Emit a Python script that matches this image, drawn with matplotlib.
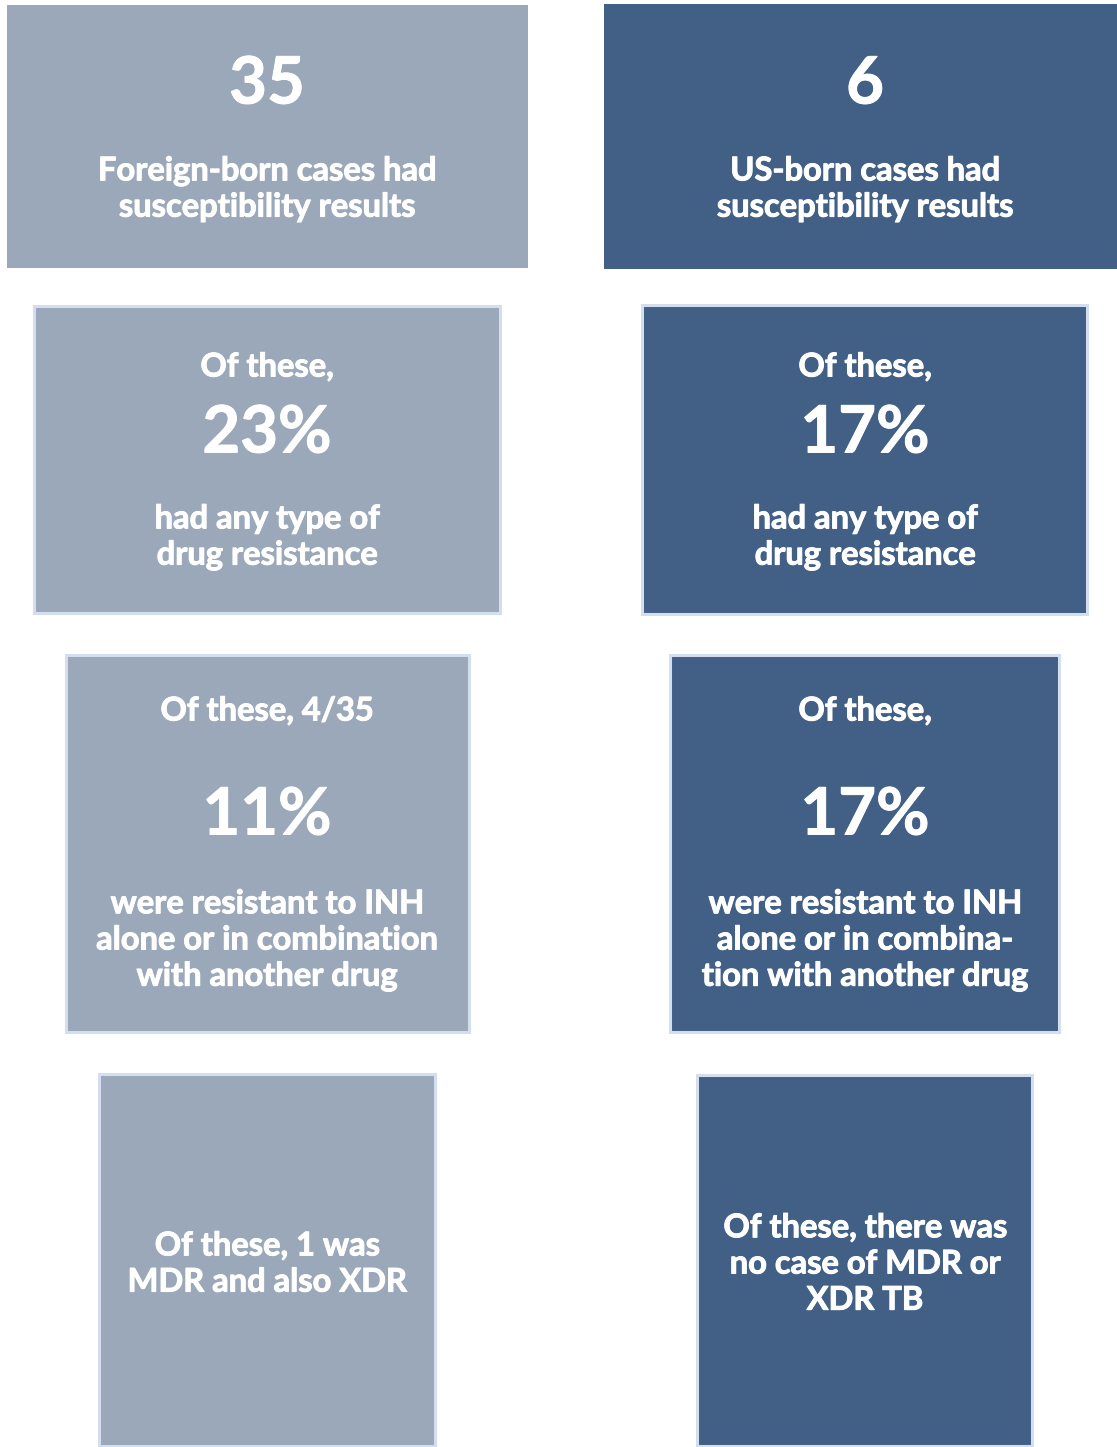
import matplotlib.pyplot as plt
import matplotlib.patheffects as pe
from matplotlib.patches import Rectangle

# colonnes: nacidos fuera / nacidos en EEUU
light = '#9ba8b9'
dark = '#426086'
edge = '#d3deee'

big_numbers = [['35', '6'], ['23%', '17%'], ['11%', '17%']]
headers = [['', ''], ['Of these,', 'Of these,'], ['Of these, 4/35', 'Of these,']]
captions = [
    ['Foreign-born cases had\nsusceptibility results', 'US-born cases had\nsusceptibility results'],
    ['had any type of\ndrug resistance', 'had any type of\ndrug resistance'],
    ['were resistant to INH\nalone or in combination\nwith another drug',
     'were resistant to INH\nalone or in combina-\ntion with another drug'],
]
last_row = ['Of these, 1 was\nMDR and also XDR', 'Of these, there was\nno case of MDR or\nXDR TB']

# cajas (x0, y0, x1, y1) en pixeles
boxes = [
    [(7, 5, 528, 268), (604, 4, 1117, 269)],
    [(32, 304, 501, 614), (640, 303, 1088, 615)],
    [(64, 653, 470, 1033), (668, 653, 1060, 1033)],
    [(97, 1072, 436, 1447), (695, 1073, 1033, 1447)],
]

W, H = 1117, 1447
fig = plt.figure(figsize=(W / 100, H / 100), dpi=100)
ax = fig.add_axes([0, 0, 1, 1])
ax.set_xlim(0, W)
ax.set_ylim(H, 0)
ax.axis('off')

fam = ['Lato', 'DejaVu Sans']
colors = [light, dark]
fs = 23.5
ls = 1.30
big = 47
# un poco mas de grosor al texto
thick = [pe.withStroke(linewidth=0.7, foreground='white')]

for r, row in enumerate(boxes):
    for c, (x0, y0, x1, y1) in enumerate(row):
        if r == 0:
            ax.add_patch(Rectangle((x0, y0), x1 - x0, y1 - y0, facecolor=colors[c], edgecolor='none'))
        else:
            ax.add_patch(Rectangle((x0 + 1.5, y0 + 1.5), x1 - x0 - 3, y1 - y0 - 3,
                                   facecolor=colors[c], edgecolor=edge, linewidth=2.2))


def txt(x, y, s, size):
    ax.text(x, y, s, ha='center', va='center', color='white', fontsize=size,
            fontweight='bold', family=fam, linespacing=ls, path_effects=thick)


cx = [267, 865]
for c in range(2):
    txt(cx[c], 85, big_numbers[0][c], big)
    txt(cx[c], 189, captions[0][c], fs)
    txt(cx[c], 367, headers[1][c], fs)
    txt(cx[c], 434, big_numbers[1][c], big)
    txt(cx[c], 537, captions[1][c], fs)
    txt(cx[c], 711, headers[2][c], fs)
    txt(cx[c], 816, big_numbers[2][c], big)
    txt(cx[c], 940, captions[2][c], fs)
    txt(cx[c], 1264, last_row[c], fs)

fig.savefig('out.png', dpi=100, facecolor='white')
